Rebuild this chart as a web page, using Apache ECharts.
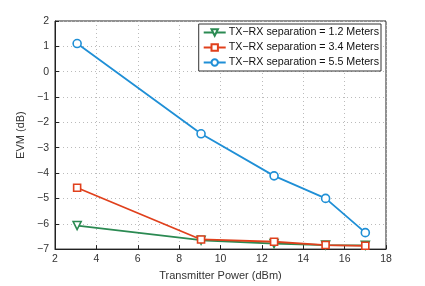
<!DOCTYPE html>
<html><head><meta charset="utf-8">
<script src="https://cdn.jsdelivr.net/npm/echarts@6/dist/echarts.min.js"></script>
<style>html,body{margin:0;padding:0;background:#fff}#c{width:425px;height:286px}</style>
</head><body><div id="c"></div>
<script>
const xPower = [3.07, 9.06, 12.59, 15.08, 17.0];
const sepNames = ['TX\u2212RX separation = 1.2 Meters', 'TX\u2212RX separation = 3.4 Meters', 'TX\u2212RX separation = 5.5 Meters'];
const evm12 = [-6.07, -6.65, -6.78, -6.84, -6.85];
const evm34 = [-4.58, -6.62, -6.71, -6.84, -6.87];
const evm55 = [1.11, -2.45, -4.11, -5.0, -6.35];
const colors = ['#2b8a52', '#e0401c', '#1f8fd6'];
const symbols = ['triangle', 'rect', 'circle'];
const font = 'Liberation Sans, Arial, sans-serif';
const pair = (ys) => xPower.map((x, i) => [x, ys[i]]);
const fmt = v => String(v).replace('-', '\u2212');
const chart = echarts.init(document.getElementById('c'), null, {renderer: 'canvas'});
const mk = (name, ys, i) => ({
  name, type: 'line', data: pair(ys), symbol: symbols[i],
  symbolSize: i === 0 ? 8 : (i === 1 ? 7 : 8), symbolRotate: i === 0 ? 180 : 0,
  lineStyle: {color: colors[i], width: 1.8}, itemStyle: {color: '#fff', borderColor: colors[i], borderWidth: 1.6},
  emphasis: {disabled: true}, z: 3 + i
});
chart.setOption({
  animation: false,
  textStyle: {fontFamily: font},
  grid: {left: 55, right: 39, top: 21, bottom: 32, show: true, borderColor: '#222', borderWidth: 1},
  legend: {
    orient: 'vertical', right: 44, top: 24, data: sepNames,
    itemWidth: 22, itemHeight: 8, itemGap: 4,
    backgroundColor: '#fff', borderColor: '#333', borderWidth: 1, padding: [3, 2, 3, 4],
    textStyle: {fontSize: 10.7, color: '#111', fontFamily: font, padding: [0, 0, 0, -2]}
  },
  xAxis: {
    type: 'value', min: 2, max: 18, interval: 2,
    name: 'Transmitter Power (dBm)', nameLocation: 'middle', nameGap: 19,
    nameTextStyle: {fontSize: 11, color: '#333'},
    axisLine: {show: true, onZero: false, lineStyle: {color: '#222'}},
    axisTick: {show: true, inside: true, length: 4, lineStyle: {color: '#222'}},
    axisLabel: {fontSize: 10.5, color: '#333', margin: 5, formatter: fmt},
    splitLine: {show: true, lineStyle: {type: [1, 3], color: '#bbb'}}
  },
  yAxis: {
    type: 'value', min: -7, max: 2, interval: 1,
    name: 'EVM (dB)', nameLocation: 'middle', nameGap: 24,
    nameTextStyle: {fontSize: 11, color: '#333'},
    axisLine: {show: true, onZero: false, lineStyle: {color: '#222'}},
    axisTick: {show: true, inside: true, length: 4, lineStyle: {color: '#222'}},
    axisLabel: {fontSize: 10.5, color: '#333', margin: 6, formatter: fmt},
    splitLine: {show: true, lineStyle: {type: [1, 3], color: '#bbb'}}
  },
  series: [mk(sepNames[0], evm12, 0), mk(sepNames[1], evm34, 1), mk(sepNames[2], evm55, 2)]
});
</script></body></html>
